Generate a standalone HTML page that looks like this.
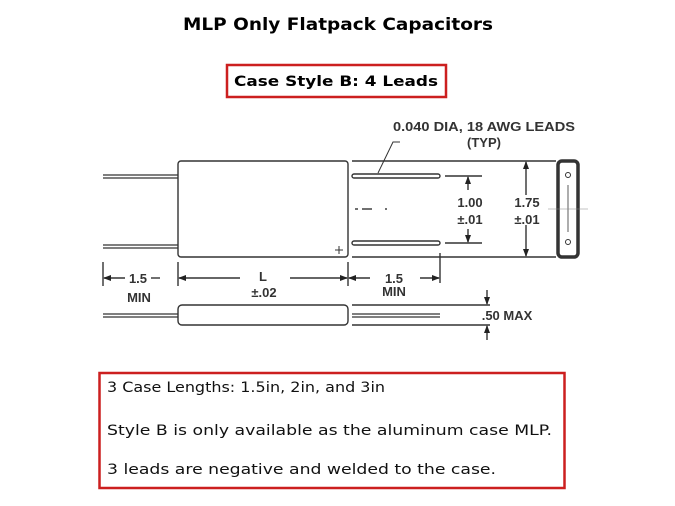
<!DOCTYPE html>
<html><head><style>html,body{margin:0;padding:0;background:#fff}svg{display:block}</style></head>
<body>
<svg width="675" height="506" viewBox="0 0 675 506" xmlns="http://www.w3.org/2000/svg">
<defs>
<marker id="a" markerWidth="8" markerHeight="6" refX="7" refY="3" orient="auto" markerUnits="userSpaceOnUse"><path d="M0,0 L8,3 L0,6z" fill="#222"/></marker>
</defs>
<text x="338" y="30" text-anchor="middle" font-family="DejaVu Sans, sans-serif" font-weight="bold" font-size="17" textLength="310" lengthAdjust="spacingAndGlyphs">MLP Only Flatpack Capacitors</text>
<rect x="227" y="65" width="219" height="32" fill="none" stroke="#cc1f1f" stroke-width="2.5"/>
<text x="234" y="86" font-family="DejaVu Sans, sans-serif" font-weight="bold" font-size="14.5" textLength="204" lengthAdjust="spacingAndGlyphs">Case Style B: 4 Leads</text>

<g stroke="#333" fill="none" stroke-width="1.4" font-family="Liberation Sans, sans-serif">
<rect x="178" y="161" width="170" height="96" rx="3"/>
<line x1="103" y1="175" x2="178" y2="175" stroke-width="1.2"/><line x1="103" y1="178" x2="178" y2="178" stroke-width="1.2"/>
<line x1="103" y1="245" x2="178" y2="245" stroke-width="1.2"/><line x1="103" y1="248" x2="178" y2="248" stroke-width="1.2"/>
<line x1="352" y1="161" x2="556" y2="161"/><line x1="352" y1="257" x2="556" y2="257"/>
<rect x="352" y="174" width="88" height="4" rx="2" stroke-width="1.4"/>
<rect x="352" y="241" width="88" height="4" rx="2" stroke-width="1.4"/>
<line x1="445" y1="176" x2="482" y2="176"/><line x1="445" y1="243" x2="482" y2="243"/>
<line x1="468" y1="190" x2="468" y2="177" marker-end="url(#a)"/>
<line x1="468" y1="229" x2="468" y2="242" marker-end="url(#a)"/>
<line x1="526" y1="195" x2="526" y2="162" marker-end="url(#a)"/>
<line x1="526" y1="225" x2="526" y2="256" marker-end="url(#a)"/>
<rect x="558" y="161" width="20" height="96" rx="4" stroke-width="3.5"/>
<circle cx="568" cy="175" r="2.5" stroke-width="1"/><circle cx="568" cy="242" r="2.5" stroke-width="1"/>
<line x1="568" y1="185" x2="568" y2="232" stroke-width="0.8"/>
<line x1="548" y1="209" x2="588" y2="209" stroke-width="0.6" stroke="#888"/>
<line x1="355" y1="209" x2="358" y2="209"/><line x1="362" y1="209" x2="372" y2="209"/><line x1="385" y1="209" x2="387" y2="209"/>
<line x1="339" y1="246" x2="339" y2="254" stroke-width="1"/><line x1="335" y1="250" x2="343" y2="250" stroke-width="1"/>
<polyline points="378,173 393,142 400,142" stroke-width="1"/>
<line x1="103" y1="262" x2="103" y2="286"/><line x1="178" y1="262" x2="178" y2="286"/>
<line x1="348" y1="262" x2="348" y2="286"/><line x1="440" y1="253" x2="440" y2="283"/>
<line x1="125" y1="278" x2="104" y2="278" marker-end="url(#a)"/><line x1="151" y1="278" x2="160" y2="278"/>
<line x1="240" y1="278" x2="179" y2="278" marker-end="url(#a)"/><line x1="290" y1="278" x2="347" y2="278" marker-end="url(#a)"/>
<line x1="370" y1="278" x2="349" y2="278" marker-end="url(#a)"/><line x1="420" y1="278" x2="439" y2="278" marker-end="url(#a)"/>
<rect x="178" y="305" width="170" height="20" rx="4"/>
<line x1="103" y1="314" x2="178" y2="314" stroke-width="1.2"/><line x1="103" y1="317" x2="178" y2="317" stroke-width="1.2"/>
<line x1="352" y1="305" x2="490" y2="305"/><line x1="352" y1="325" x2="490" y2="325"/>
<line x1="352" y1="314" x2="440" y2="314" stroke-width="1.2"/><line x1="352" y1="317" x2="440" y2="317" stroke-width="1.2"/>
<line x1="487" y1="290" x2="487" y2="304" marker-end="url(#a)"/>
<line x1="487" y1="340" x2="487" y2="326" marker-end="url(#a)"/>
</g>
<g font-family="Liberation Sans, sans-serif" font-size="13" font-weight="bold" fill="#333" text-anchor="middle">
<text x="484" y="131" textLength="182" lengthAdjust="spacingAndGlyphs">0.040 DIA, 18 AWG LEADS</text>
<text x="484" y="147">(TYP)</text>
<text x="470" y="207">1.00</text><text x="470" y="224">±.01</text>
<text x="527" y="207">1.75</text><text x="527" y="224">±.01</text>
<text x="138" y="283">1.5</text><text x="139" y="302">MIN</text>
<text x="263" y="281">L</text><text x="264" y="297">±.02</text>
<text x="394" y="283">1.5</text><text x="394" y="296">MIN</text>
<text x="507" y="320">.50 MAX</text>
</g>

<rect x="99.5" y="373" width="465" height="115" fill="none" stroke="#cc1f1f" stroke-width="2.5"/>
<g font-family="DejaVu Sans, sans-serif" font-size="14" fill="#111">
<text x="107" y="392" textLength="278" lengthAdjust="spacingAndGlyphs">3 Case Lengths: 1.5in, 2in, and 3in</text>
<text x="107" y="435" textLength="445" lengthAdjust="spacingAndGlyphs">Style B is only available as the aluminum case MLP.</text>
<text x="107" y="474" textLength="389" lengthAdjust="spacingAndGlyphs">3 leads are negative and welded to the case.</text>
</g>
</svg>
</body></html>
